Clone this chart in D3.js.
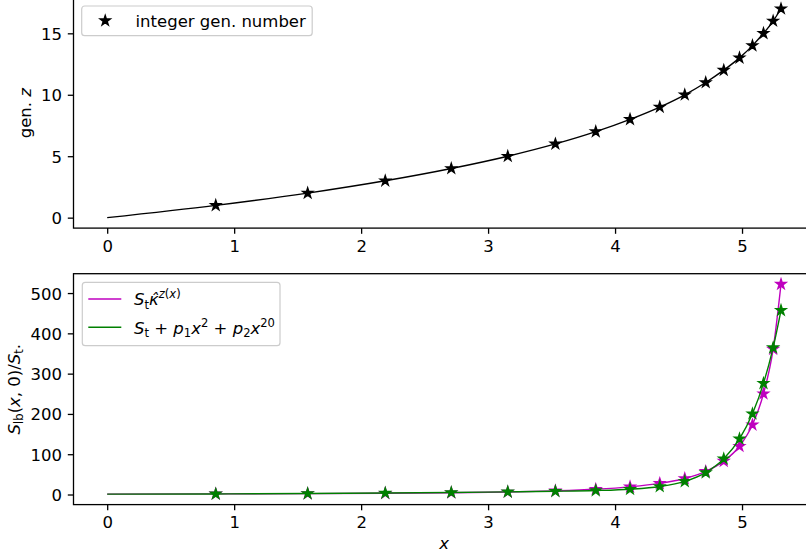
<!DOCTYPE html>
<html><head><meta charset="utf-8">
<script src="https://cdn.jsdelivr.net/npm/d3@7"></script>
<style>
body{margin:0;background:#fff}
svg{display:block}
text{font-family:"DejaVu Sans",sans-serif;fill:#000}
</style>
</head><body>
<svg id="c" width="806" height="558"></svg>
<script>
// ---------------- data ----------------
const genZ = [0, 1, 2, 3, 4, 5, 6, 7, 8, 9, 10, 11, 12, 13, 14, 15, 16, 17];
const genX = [0, 0.855, 1.579, 2.19, 2.71, 3.155, 3.53, 3.848, 4.118, 4.352, 4.549, 4.714, 4.856, 4.98, 5.082, 5.169, 5.245, 5.307];
const kappaSeries = [1, 1.45, 2.09, 3.02, 4.36, 6.3, 9.1, 13.1, 19.0, 27.5, 39.7, 57.3, 82.9, 119.8, 173, 250, 361, 522];
const polySeries = [1, 1.40, 2.37, 3.64, 5.04, 6.49, 7.98, 9.85, 13.1, 19.8, 32.6, 54.4, 88.6, 138.2, 200.4, 275.8, 364.4, 457];
const xTicks = [0, 1, 2, 3, 4, 5];
const zTicks = [0, 5, 10, 15];
const sTicks = [0, 100, 200, 300, 400, 500];
const legendTop = ["integer gen. number"];

// ---------------- layout ----------------
const FS = 16.5;
const svg = d3.select("#c");
const L = 73.5, R = 814.7;
const top1 = -1.7, bot1 = 228.1;
const top2 = 273.7, bot2 = 504.6;
const colM = "#bf00bf", colG = "#008000";

const xmax = d3.max(genX), xpad = xmax * 0.05;
const x = d3.scaleLinear().domain([-xpad, xmax + xpad]).range([L, R]);
const zmax = d3.max(genZ), zpad = zmax * 0.05;
const y1 = d3.scaleLinear().domain([-zpad, zmax + zpad]).range([bot1, top1]);
const smax = d3.max(kappaSeries), smin = 1, spad = (smax - smin) * 0.05;
const y2 = d3.scaleLinear().domain([smin - spad, smax + spad]).range([bot2, top2]);

function starPath(Rr) {
  const p = [];
  for (let k = 0; k < 10; k++) {
    const r = k % 2 ? Rr * 0.381966 : Rr;
    const a = -Math.PI / 2 + k * Math.PI / 5;
    p.push([(r * Math.cos(a)).toFixed(3), (r * Math.sin(a)).toFixed(3)]);
  }
  return "M" + p.map(d => d.join(",")).join("L") + "Z";
}
const STAR = starPath(5.1);
const SW = 1.5;

// clip paths
const defs = svg.append("defs");
defs.append("clipPath").attr("id", "cp1").append("rect").attr("x", L).attr("y", top1).attr("width", R - L).attr("height", bot1 - top1);
defs.append("clipPath").attr("id", "cp2").append("rect").attr("x", L).attr("y", top2).attr("width", R - L).attr("height", bot2 - top2);

// math-ish text helper
function mtext(sel, segs, size) {
  let cur = 0;
  segs.forEach(s => {
    const fsz = s.p === "b" ? size : size * 0.7;
    const off = s.p === "sub" ? size * 0.22 : s.p === "sup" ? -size * 0.42 : 0;
    const ts = sel.append("tspan").text(s.t)
      .attr("font-size", fsz)
      .attr("dy", (off - cur).toFixed(2));
    if (s.i) ts.attr("font-style", "italic");
    cur = off;
  });
}

function axes(ybot, ytop, yScale, yTicksArr) {
  const gx = svg.append("g").attr("transform", `translate(0,${ybot})`)
    .call(d3.axisBottom(x).tickValues(xTicks).tickSize(5.7).tickPadding(6.2).tickFormat(d3.format("d")));
  const gy = svg.append("g").attr("transform", `translate(${L},0)`)
    .call(d3.axisLeft(yScale).tickValues(yTicksArr).tickSize(5.7).tickPadding(5.8).tickFormat(d3.format("d")));
  [gx, gy].forEach(g => {
    g.select(".domain").remove();
    g.selectAll(".tick line").attr("stroke", "#000").attr("stroke-width", 1.3);
    g.selectAll(".tick text").attr("font-size", FS).attr("font-family", "DejaVu Sans").attr("fill", "#000");
  });
  gy.selectAll(".tick text").attr("dy", "0.36em");
  // spines
  const sp = svg.append("g").attr("stroke", "#000").attr("stroke-width", 1.3).attr("fill", "none");
  sp.append("rect").attr("x", L).attr("y", ytop).attr("width", R - L).attr("height", ybot - ytop);
}

// ---------------- top panel ----------------
axes(bot1, top1, y1, zTicks);
const line1 = d3.line().x((d, i) => x(genX[i])).y(d => y1(d)).curve(d3.curveMonotoneX);
svg.append("path").attr("clip-path", "url(#cp1)").attr("d", line1(genZ))
  .attr("fill", "none").attr("stroke", "#000").attr("stroke-width", 1.4);
svg.append("g").selectAll("path").data(genZ.slice(1)).join("path")
  .attr("d", STAR).attr("transform", (d, i) => `translate(${x(genX[i + 1])},${y1(d)})`)
  .attr("fill", "#000").attr("stroke", "#000").attr("stroke-width", SW).attr("stroke-linejoin", "miter");

svg.append("text").attr("transform", `translate(31,${(top1 + bot1) / 2}) rotate(-90)`)
  .attr("text-anchor", "middle").attr("font-size", FS)
  .call(t => mtext(t, [{ t: "gen. ", p: "b" }, { t: "z", p: "b", i: 1 }], FS));

// top legend
const lg1 = svg.append("g");
lg1.append("rect").attr("x", 81.7).attr("y", 6).attr("width", 230.5).attr("height", 29.7).attr("rx", 3)
  .attr("fill", "#fff").attr("fill-opacity", 0.8).attr("stroke", "#cccccc").attr("stroke-width", 1.2);
lg1.append("path").attr("d", STAR).attr("transform", "translate(105.2,20.7)")
  .attr("fill", "#000").attr("stroke", "#000").attr("stroke-width", SW);
lg1.append("text").attr("x", 135.5).attr("y", 26.6).attr("font-size", FS).text(legendTop[0]);

// ---------------- bottom panel ----------------
axes(bot2, top2, y2, sTicks);
const line2 = arr => d3.line().x((d, i) => x(genX[i])).y(d => y2(d)).curve(d3.curveMonotoneX)(arr);
svg.append("path").attr("clip-path", "url(#cp2)").attr("d", line2(kappaSeries))
  .attr("fill", "none").attr("stroke", colM).attr("stroke-width", 1.4);
svg.append("g").selectAll("path").data(kappaSeries.slice(1)).join("path")
  .attr("d", STAR).attr("transform", (d, i) => `translate(${x(genX[i + 1])},${y2(d)})`)
  .attr("fill", colM).attr("stroke", colM).attr("stroke-width", SW);
svg.append("path").attr("clip-path", "url(#cp2)").attr("d", line2(polySeries))
  .attr("fill", "none").attr("stroke", colG).attr("stroke-width", 1.4);
svg.append("g").selectAll("path").data(polySeries.slice(1)).join("path")
  .attr("d", STAR).attr("transform", (d, i) => `translate(${x(genX[i + 1])},${y2(d)})`)
  .attr("fill", colG).attr("stroke", colG).attr("stroke-width", SW);

svg.append("text").attr("transform", `translate(19.5,${(top2 + bot2) / 2}) rotate(-90)`)
  .attr("text-anchor", "middle").attr("font-size", FS)
  .call(t => mtext(t, [
    { t: "S", p: "b", i: 1 }, { t: "lb", p: "sub" }, { t: "(", p: "b" }, { t: "x", p: "b", i: 1 },
    { t: ", 0)/", p: "b" }, { t: "S", p: "b", i: 1 }, { t: "t", p: "sub" }, { t: ".", p: "b" }], FS));

svg.append("text").attr("x", (L + R) / 2).attr("y", 549).attr("text-anchor", "middle")
  .attr("font-size", FS).attr("font-style", "italic").text("x");

// bottom legend
const lg2 = svg.append("g");
lg2.append("rect").attr("x", 82.3).attr("y", 282.3).attr("width", 197.7).attr("height", 63.4).attr("rx", 3)
  .attr("fill", "#fff").attr("fill-opacity", 0.8).attr("stroke", "#cccccc").attr("stroke-width", 1.2);
lg2.append("line").attr("x1", 88.3).attr("x2", 121.3).attr("y1", 299).attr("y2", 299).attr("stroke", colM).attr("stroke-width", 1.4);
lg2.append("line").attr("x1", 88.3).attr("x2", 121.3).attr("y1", 327.3).attr("y2", 327.3).attr("stroke", colG).attr("stroke-width", 1.4);
lg2.append("text").attr("x", 134).attr("y", 305).attr("font-size", FS)
  .call(t => mtext(t, [
    { t: "S", p: "b", i: 1 }, { t: "t", p: "sub" }, { t: "\u03BA\u0302", p: "b", i: 1 },
    { t: "z", p: "sup", i: 1 }, { t: "(", p: "sup" }, { t: "x", p: "sup", i: 1 }, { t: ")", p: "sup" }], FS));
lg2.append("text").attr("x", 134).attr("y", 333.5).attr("font-size", FS)
  .call(t => mtext(t, [
    { t: "S", p: "b", i: 1 }, { t: "t", p: "sub" }, { t: " + ", p: "b" },
    { t: "p", p: "b", i: 1 }, { t: "1", p: "sub" }, { t: "x", p: "b", i: 1 }, { t: "2", p: "sup" },
    { t: " + ", p: "b" }, { t: "p", p: "b", i: 1 }, { t: "2", p: "sub" }, { t: "x", p: "b", i: 1 }, { t: "20", p: "sup" }], FS));
</script>
</body></html>
